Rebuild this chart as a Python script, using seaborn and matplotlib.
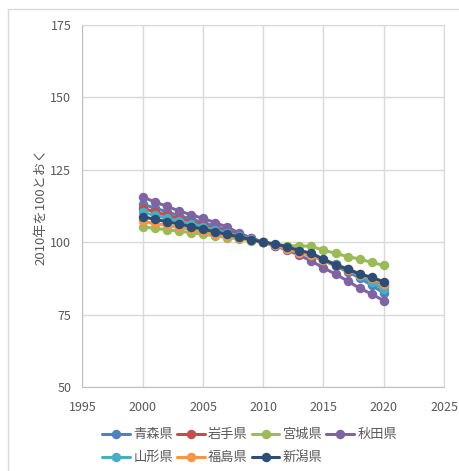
"""
Population index of Tohoku prefectures and Niigata (2010 = 100)
"""

import matplotlib
matplotlib.use("Agg")
import matplotlib.pyplot as plt
import seaborn as sns
import pandas as pd
from matplotlib.lines import Line2D

YEARS = list(range(2000, 2021))

AOMORI = [113.1, 111.8, 110.5, 109.2, 108.0, 106.8, 105.5, 104.1, 102.7, 101.4, 100.0,
          99.0, 98.0, 96.8, 95.4, 93.7, 91.8, 89.8, 87.7, 85.1, 82.5]
IWATE = [111.7, 110.5, 109.3, 108.2, 107.1, 106.0, 104.8, 103.6, 102.4, 101.2, 100.0,
         98.7, 97.7, 96.6, 95.3, 93.9, 92.4, 90.8, 89.1, 87.3, 85.2]
MIYAGI = [105.3, 104.8, 104.3, 103.8, 103.3, 102.8, 102.2, 101.6, 101.1, 100.5, 100.0,
          99.2, 98.8, 98.7, 98.6, 97.2, 96.2, 95.0, 94.2, 93.0, 92.0]
AKITA = [115.6, 113.9, 112.4, 110.8, 109.5, 108.2, 106.8, 105.2, 103.2, 101.4, 100.0,
         98.7, 97.3, 95.5, 93.5, 91.1, 89.0, 86.6, 84.1, 82.1, 79.8]
YAMAGATA = [110.3, 109.3, 108.3, 107.3, 106.4, 105.4, 104.3, 103.2, 102.1, 101.0, 100.0,
            99.1, 98.1, 96.9, 95.6, 94.0, 92.3, 90.4, 88.4, 86.2, 83.8]
FUKUSHIMA = [107.2, 106.5, 105.8, 105.1, 104.4, 103.7, 103.0, 102.2, 101.5, 100.7, 100.0,
             98.9, 97.6, 96.4, 95.6, 93.8, 92.0, 90.4, 88.8, 87.5, 85.7]
NIIGATA = [108.8, 107.9, 107.1, 106.3, 105.4, 104.5, 103.6, 102.7, 101.8, 100.9, 100.0,
           99.4, 98.4, 97.1, 96.2, 94.1, 92.1, 90.6, 89.0, 87.9, 86.3]

NAMES = ["青森県", "岩手県", "宮城県", "秋田県", "山形県", "福島県", "新潟県"]
SERIES = [AOMORI, IWATE, MIYAGI, AKITA, YAMAGATA, FUKUSHIMA, NIIGATA]
COLORS = ["#4F81BD", "#C0504D", "#9BBB59", "#8064A2", "#4BACC6", "#F79646", "#2C4D75"]

X_TICKS = [1995, 2000, 2005, 2010, 2015, 2020, 2025]
Y_TICKS = [50, 75, 100, 125, 150, 175]

# legend fills column by column, so reorder to read row by row
LEGEND_ORDER = [0, 4, 1, 5, 2, 6, 3]


def main():
    sns.set_style("white")
    plt.rcParams["font.family"] = ["Noto Sans CJK JP", "DejaVu Sans"]

    rows = []
    for name, vals in zip(NAMES, SERIES):
        for yr, v in zip(YEARS, vals):
            rows.append({"year": yr, "value": v, "pref": name})
    df = pd.DataFrame(rows)

    fig = plt.figure(figsize=(4.6, 4.71), dpi=100)
    ax = fig.add_axes([82.5 / 460, 1 - 387 / 471, (444 - 82.5) / 460, (387 - 25) / 471])

    sns.lineplot(data=df, x="year", y="value", hue="pref", hue_order=NAMES,
                 palette=COLORS, marker="o", markersize=6.8, markeredgewidth=0,
                 linewidth=2.2, ax=ax, legend=False)

    ax.set_xlim(1995, 2025)
    ax.set_ylim(50, 175)
    ax.set_xticks(X_TICKS)
    ax.set_yticks(Y_TICKS)
    ax.grid(True, color="#D9D9D9", linewidth=1)
    ax.set_axisbelow(True)
    for side in ["top", "right"]:
        ax.spines[side].set_color("#D9D9D9")
    for side in ["left", "bottom"]:
        ax.spines[side].set_color("#BFBFBF")
    ax.tick_params(axis="both", length=0, labelsize=9, colors="#595959", pad=8)
    ax.tick_params(axis="x", pad=10)
    ax.set_xlabel("")
    ax.set_ylabel("2010年を100とおく", fontsize=9.5, color="#595959", labelpad=2)

    # legend in two rows below the plot
    handles = [Line2D([0], [0], color=c, lw=2.2, marker="o", markersize=6.8,
                      markeredgewidth=0) for c in COLORS]
    fig.legend([handles[i] for i in LEGEND_ORDER], [NAMES[i] for i in LEGEND_ORDER],
               loc="upper left", bbox_to_anchor=(97 / 460, 1 - 423 / 471),
               ncol=4, frameon=False, fontsize=9.5, labelcolor="#595959",
               handlelength=2.1, handletextpad=0.25, columnspacing=0.3,
               labelspacing=0.75, borderaxespad=0)

    # chart-area border (top and left visible)
    fig.add_artist(Line2D([8 / 460, 1], [1 - 9 / 471, 1 - 9 / 471],
                          transform=fig.transFigure, color="#D9D9D9", lw=1))
    fig.add_artist(Line2D([8 / 460, 8 / 460], [0, 1 - 9 / 471],
                          transform=fig.transFigure, color="#D9D9D9", lw=1))

    fig.savefig("out.png", dpi=100)


if __name__ == "__main__":
    main()
